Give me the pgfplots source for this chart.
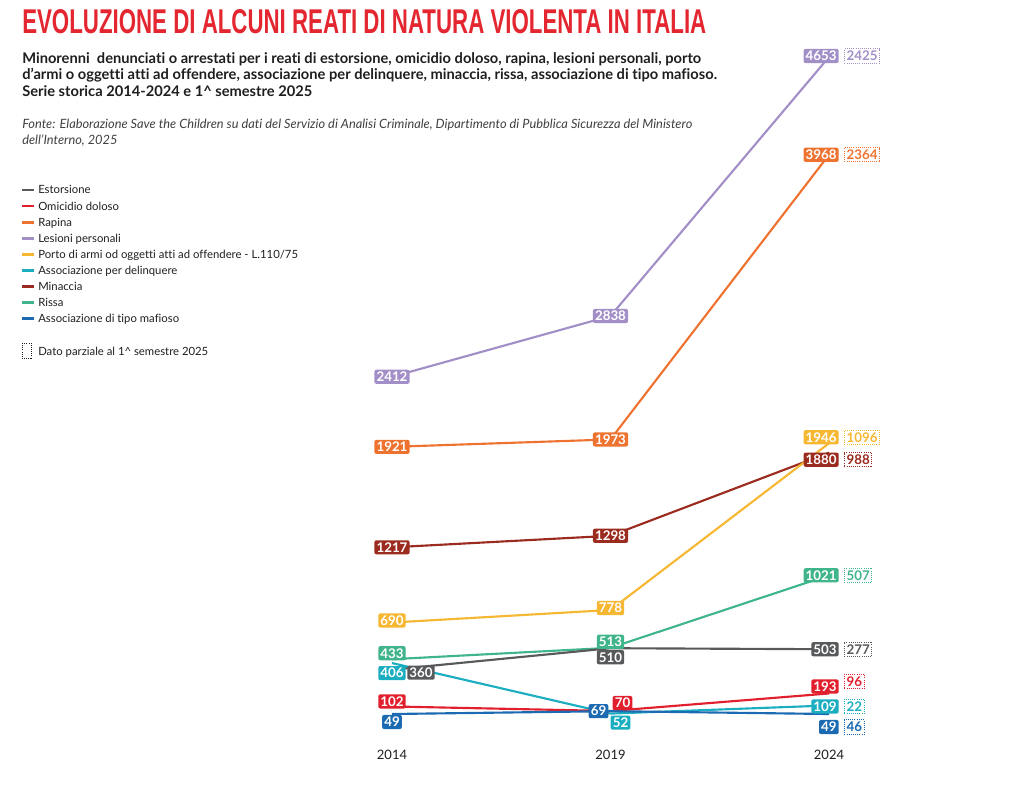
\documentclass[border=0pt]{standalone}
\usepackage{fontspec}
\setmainfont{Lato}[Ligatures={TeX,NoCommon}]
\newfontfamily\titlefont{Liberation Sans}
\usepackage{graphicx}
\usepackage{pgfplots}
\pgfplotsset{compat=1.18}

\definecolor{cEst}{HTML}{58595B}
\definecolor{cOmi}{HTML}{E2202D}
\definecolor{cRap}{HTML}{EE7330}
\definecolor{cLes}{HTML}{A38FC7}
\definecolor{cPor}{HTML}{F6B733}
\definecolor{cAss}{HTML}{1BAEC0}
\definecolor{cMin}{HTML}{9B2B1E}
\definecolor{cRis}{HTML}{40B58B}
\definecolor{cMaf}{HTML}{1C6AB1}
\definecolor{titlered}{HTML}{E3262F}
\definecolor{txt}{HTML}{1E1E1E}

\tikzset{
  lblbase/.style={font=\bfseries\fontsize{10}{10}\selectfont, inner xsep=1.6pt,
    inner ysep=1.7pt, text height=7.2pt, text depth=0pt, rounded corners=1.5pt},
  lblS/.style={lblbase, fill=#1, text=white},
  lblP/.style={lblbase, fill=white, text=#1, draw=#1, line width=0.7pt,
    dash pattern=on 0.7pt off 0.9pt, rounded corners=0pt},
}

\newcommand{\serie}[2]{\addplot[#1, line width=1.6pt, mark=none] coordinates {#2};}
% label: style, colour, x, y, dx px, dy px (up), anchor, text
\newcommand{\lab}[8]{%
  \addplot[draw=none, mark=none, nodes near coords, point meta=explicit symbolic,
    nodes near coords style={#1=#2, anchor=#7, xshift=#5*0.75pt, yshift=#6*0.75pt}]
    coordinates {(#3,#4) [#8]};}

\begin{document}
\begin{tikzpicture}[x=0.75pt, y=-0.75pt]
\path[use as bounding box] (0,0) rectangle (1024,802);

\node[anchor=south west, inner sep=0pt, text=titlered] at (22,34)
  {\resizebox{513pt}{18pt}{\titlefont\bfseries EVOLUZIONE DI ALCUNI REATI DI NATURA VIOLENTA IN ITALIA}};

\begin{scope}[every node/.style={anchor=base west, inner sep=0pt, text=txt,
    font=\bfseries\fontsize{11}{12}\selectfont}]
\node at (22,64) {Minorenni\ \ denunciati o arrestati per i reati di estorsione, omicidio doloso, rapina, lesioni personali, porto};
\node at (22,80) {d'armi o oggetti atti ad offendere, associazione per delinquere, minaccia, rissa, associazione di tipo mafioso.};
\node at (22,97) {Serie storica 2014-2024 e 1\textasciicircum\ semestre 2025};
\end{scope}
\begin{scope}[every node/.style={anchor=base west, inner sep=0pt, text=txt!85,
    font=\itshape\fontsize{9.6}{11}\selectfont}]
\node at (22,129) {Fonte: Elaborazione Save the Children su dati del Servizio di Analisi Criminale, Dipartimento di Pubblica Sicurezza del Ministero};
\node at (22,145) {dell'Interno, 2025};
\end{scope}

% legend
\foreach \c/\n [count=\i from 0] in {cEst/Estorsione, cOmi/Omicidio doloso, cRap/Rapina,
    cLes/Lesioni personali, cPor/{Porto di armi od oggetti atti ad offendere - L.110/75},
    cAss/Associazione per delinquere, cMin/Minaccia, cRis/Rissa, cMaf/Associazione di tipo mafioso}{
  \draw[\c, line width=2pt] (22,190+16.1*\i) -- (34,190+16.1*\i);
  \node[anchor=base west, inner sep=0pt, text=txt, font=\fontsize{8.5}{10}\selectfont]
    at (38,194+16.1*\i) {\n};
}
\draw[txt, line width=0.7pt, dash pattern=on 0.7pt off 0.9pt] (22,343) rectangle (31,358);
\node[anchor=base west, inner sep=0pt, text=txt, font=\fontsize{8.5}{10}\selectfont]
  at (38,355) {Dato parziale al 1\textasciicircum\ semestre 2025};

\begin{axis}[at={(294pt,-540.75pt)}, anchor=south west, scale only axis,
  width=327.75pt, height=498pt, xmin=2014, xmax=2024, ymin=0, ymax=4653,
  clip=false, axis line style={draw=none}, ytick=\empty,
  xtick={2014,2019,2024}, major tick length=0pt,
  xticklabel style={anchor=base, yshift=-29pt, text=txt,
    font=\fontsize{9.75}{11}\selectfont},
  /pgf/number format/1000 sep={}, /pgf/number format/assume math mode=true]
\serie{cLes}{(2014,2412) (2019,2838) (2024,4653)}
\serie{cRap}{(2014,1921) (2019,1973) (2024,3968)}
\serie{cMin}{(2014,1217) (2019,1298) (2024,1880)}
\serie{cPor}{(2014,690) (2019,778) (2024,1946)}
\serie{cRis}{(2014,433) (2019,513) (2024,1021)}
\serie{cEst}{(2014,360) (2019,510) (2024,503)}
\serie{cAss}{(2014,406) (2019,52) (2024,109)}
\serie{cOmi}{(2014,102) (2019,70) (2024,193)}
\serie{cMaf}{(2014,49) (2019,69) (2024,49)}
% Lesioni personali
\lab{lblS}{cLes}{2014}{2412}{0}{0}{center}{2412}
\lab{lblS}{cLes}{2019}{2838}{0}{0}{center}{2838}
\lab{lblS}{cLes}{2024}{4653}{10}{1}{east}{4653}
\lab{lblP}{cLes}{2024}{4653}{15}{1}{west}{2425}
% Rapina
\lab{lblS}{cRap}{2014}{1921}{0}{0}{center}{1921}
\lab{lblS}{cRap}{2019}{1973}{0}{0}{center}{1973}
\lab{lblS}{cRap}{2024}{3968}{10}{0}{east}{3968}
\lab{lblP}{cRap}{2024}{3968}{15}{0}{west}{2364}
% Minaccia
\lab{lblS}{cMin}{2014}{1217}{0}{0}{center}{1217}
\lab{lblS}{cMin}{2019}{1298}{0}{0}{center}{1298}
\lab{lblS}{cMin}{2024}{1880}{10}{-7}{east}{1880}
\lab{lblP}{cMin}{2024}{1880}{15}{-7}{west}{988}
% Porto d'armi
\lab{lblS}{cPor}{2014}{690}{0}{2}{center}{690}
\lab{lblS}{cPor}{2019}{778}{0}{2}{center}{778}
\lab{lblS}{cPor}{2024}{1946}{10}{6}{east}{1946}
\lab{lblP}{cPor}{2024}{1946}{15}{6}{west}{1096}
% Rissa
\lab{lblS}{cRis}{2014}{433}{0}{6}{center}{433}
\lab{lblS}{cRis}{2019}{513}{0}{6}{center}{513}
\lab{lblS}{cRis}{2024}{1021}{10}{0}{east}{1021}
\lab{lblP}{cRis}{2024}{1021}{15}{0}{west}{507}
% Estorsione
\lab{lblS}{cEst}{2014}{360}{29}{-3}{center}{360}
\lab{lblS}{cEst}{2019}{510}{0}{-9}{center}{510}
\lab{lblS}{cEst}{2024}{503}{10}{0}{east}{503}
\lab{lblP}{cEst}{2024}{503}{15}{0}{west}{277}
% Associazione per delinquere
\lab{lblS}{cAss}{2014}{406}{0}{-10}{center}{406}
\lab{lblS}{cAss}{2019}{52}{10}{-9}{center}{52}
\lab{lblS}{cAss}{2024}{109}{10}{-1}{east}{109}
\lab{lblP}{cAss}{2024}{109}{15}{-1}{west}{22}
% Omicidio doloso
\lab{lblS}{cOmi}{2014}{102}{0}{5}{center}{102}
\lab{lblS}{cOmi}{2019}{70}{12}{8}{center}{70}
\lab{lblS}{cOmi}{2024}{193}{10}{7}{east}{193}
\lab{lblP}{cOmi}{2024}{193}{15}{12}{west}{96}
% Associazione di tipo mafioso
\lab{lblS}{cMaf}{2014}{49}{0}{-8}{center}{49}
\lab{lblS}{cMaf}{2019}{69}{-12}{0}{center}{69}
\lab{lblS}{cMaf}{2024}{49}{10}{-13}{east}{49}
\lab{lblP}{cMaf}{2024}{49}{15}{-13}{west}{46}
\end{axis}
\end{tikzpicture}
\end{document}
